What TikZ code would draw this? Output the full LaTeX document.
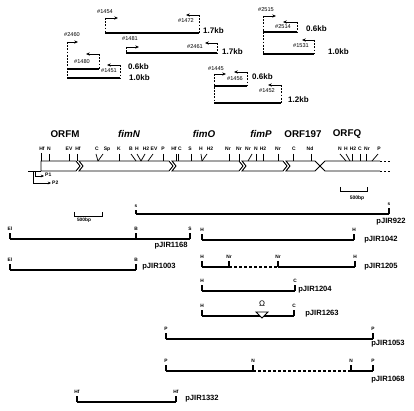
\documentclass[tikz,border=0pt]{standalone}
\usepackage{fontspec}
\setmainfont{Liberation Sans}
\usetikzlibrary{arrows.meta}
\tikzset{
  pl/.style={font=\fontsize{5.6}{6}\selectfont, inner sep=0pt},
  kb/.style={font=\fontsize{8}{8}\selectfont\bfseries, inner sep=0pt, anchor=west},
  gene/.style={font=\fontsize{9.8}{10}\selectfont\bfseries, inner sep=0pt},
  genei/.style={font=\fontsize{9.8}{10}\selectfont\bfseries\itshape, inner sep=0pt},
  site/.style={font=\fontsize{5}{5}\selectfont\bfseries, inner sep=0pt},
  cs/.style={font=\fontsize{4.8}{5}\selectfont\bfseries, inner sep=0pt},
  clab/.style={font=\fontsize{7.6}{8}\selectfont\bfseries, inner sep=0pt},
  dsh/.style={line width=0.7pt, dash pattern=on 1.8pt off 1.4pt},
  pa/.style={line width=0.7pt, -{Stealth[length=3.8pt,width=3.2pt]}},
  frag/.style={line width=1.7pt},
  gbox/.style={draw, line width=0.9pt, fill=white, line join=miter},
  tk/.style={line width=0.75pt},
  cl/.style={line width=1.1pt},
  cld/.style={line width=1.1pt, dash pattern=on 3pt off 2pt},
}
\newcommand{\cutmark}[3]{\draw[cl] (#1,#2) -- (#1,#2-6); \node[cs] at (#1,#2-10) {#3};}
\begin{document}
\begin{tikzpicture}[x=1pt,y=-1pt]
\useasboundingbox[fill=white] (0,0) rectangle (414,411);

% ---------- top fragments ----------
% group A
\coordinate (a1) at (105,18); \coordinate (a2) at (199,15);
\draw[dsh] (a1) -- (105,33); \draw[pa] (a1) -- (118,18);
\node[pl] (la1) at (105,12) {\#1454};
\draw[dsh] (a2) -- (199,33); \draw[pa] (a2) -- (186,15);
\node[pl] (la2) at (186,21) {\#1472};
\draw[frag] (105,33) -- (199,33);
\node[kb] (ka) at (203,31) {1.7kb};
% group B
\coordinate (b1) at (126,47); \coordinate (b2) at (217,43);
\draw[dsh] (b1) -- (126,53); \draw[pa] (b1) -- (139,47);
\node[pl] (lb1) at (130,39) {\#1481};
\draw[dsh] (b2) -- (217,53); \draw[pa] (b2) -- (205,43);
\node[pl] (lb2) at (195,47) {\#2461};
\draw[frag] (126,53) -- (217,53);
\node[kb] (kbb) at (222,52) {1.7kb};
% group C
\coordinate (c1) at (67,42); \coordinate (c2) at (99,54); \coordinate (c3) at (120,65);
\draw[dsh] (c1) -- (67,78); \draw[pa] (c1) -- (78,42);
\node[pl] (lc1) at (72,35) {\#2460};
\draw[dsh] (c2) -- (99,69); \draw[pa] (c2) -- (86,54);
\node[pl] (lc2) at (82,62) {\#1480};
\draw[dsh] (c3) -- (120,78); \draw[pa] (c3) -- (107,65);
\node[pl] (lc3) at (109,71) {\#1451};
\draw[frag] (67,69) -- (99,69);
\draw[frag] (67,78) -- (120,78);
\node[kb] (kc1) at (128,67) {0.6kb};
\node[kb] (kc2) at (129,78) {1.0kb};
% group D
\coordinate (d1) at (263,16); \coordinate (d2) at (297,22); \coordinate (d3) at (314,40);
\draw[dsh] (d1) -- (263,54); \draw[pa] (d1) -- (276,16);
\node[pl] (ld1) at (266,10) {\#2515};
\draw[dsh] (d2) -- (297,32); \draw[pa] (d2) -- (283,22);
\node[pl] (ld2) at (283,27) {\#2514};
\draw[dsh] (d3) -- (314,54); \draw[pa] (d3) -- (302,40);
\node[pl] (ld3) at (301,46) {\#1531};
\draw[frag] (263,32) -- (297,32);
\draw[frag] (263,54) -- (314,54);
\node[kb] (kd1) at (306,29) {0.6kb};
\node[kb] (kd2) at (328,52) {1.0kb};
% group E
\coordinate (e1) at (214,74); \coordinate (e2) at (247,72); \coordinate (e3) at (281,85);
\draw[dsh] (e1) -- (214,103); \draw[pa] (e1) -- (226,74);
\node[pl] (le1) at (216,69) {\#1445};
\draw[dsh] (e2) -- (247,86); \draw[pa] (e2) -- (234,72);
\node[pl] (le2) at (235,79) {\#1456};
\draw[dsh] (e3) -- (281,103); \draw[pa] (e3) -- (268,85);
\node[pl] (le3) at (267,91) {\#1452};
\draw[frag] (214,86) -- (247,86);
\draw[frag] (214,103) -- (281,103);
\node[kb] (ke1) at (252,77) {0.6kb};
\node[kb] (ke2) at (288,100) {1.2kb};

% ---------- gene map ----------
\node[gene]  (gM) at (65,134) {ORFM};
\node[genei] (gN) at (129,134) {fimN};
\node[genei] (gO) at (204,134) {fimO};
\node[genei] (gP) at (261,134) {fimP};
\node[gene]  (g197) at (303,134) {ORF197};
\node[gene]  (gQ) at (347,134) {ORFQ};

\draw[tk] (28,171) -- (41,171);
\draw[gbox] (41,161) -- (76,161) -- (80,166) -- (76,171) -- (41,171) -- cycle;
\draw[gbox] (79,161) -- (169,161) -- (173,166) -- (169,171) -- (79,171) -- (83,166) -- cycle;
\draw[gbox] (172,161) -- (239,161) -- (243,166) -- (239,171) -- (172,171) -- (176,166) -- cycle;
\draw[gbox] (242,161) -- (283,161) -- (287,166) -- (283,171) -- (242,171) -- (246,166) -- cycle;
\draw[gbox] (286,161) -- (315,161) -- (320,166) -- (315,171) -- (286,171) -- (290,166) -- cycle;
\draw[line width=0.9pt] (380,161) -- (325,161) -- (320,166) -- (325,171) -- (380,171);
\draw[line width=0.9pt, dash pattern=on 2pt off 2pt] (380,161) -- (390,161);
\draw[line width=0.9pt, dash pattern=on 2pt off 2pt] (380,171) -- (390,171);

% promoters
\draw[line width=0.7pt, -{Stealth[length=3.2pt,width=2.8pt]}] (35,171) -- (35,176) -- (44,176);
\node[site, anchor=west] (p1) at (45,175) {P1};
\draw[line width=0.7pt, -{Stealth[length=3.2pt,width=2.8pt]}] (33,171) -- (33,183) -- (51,183);
\node[site, anchor=west] (p2) at (52,183) {P2};

% restriction sites: labels
\foreach \x/\t in {42/Hf,49/N,69/EV,78/Hf,97/C,107/Sp,119/K,131/B,137/H,146/H2,154/EV,163/P,
  174/Hf,180/C,190/S,201/H,210/H2,228/Nr,239/Nr,248/Nr,256/N,263/H2,278/Nr,294/C,310/Nd,
  340/N,346/H,353/H2,360/C,367/Nr,379/P}
  \node[site] at (\x,149) {\t};
% restriction sites: ticks
\draw[tk] (41,153) -- (41,161);
\foreach \a/\b in {49/49,69/69,77/77,119/119,163/163,176/176,178/178,191/191,229/229,239/239,
  256/256,263/263,278/278,293/293,311/311,352/352,360/360,366/366,
  96/98,103/98,131/136,137/141,145/141,153/148,201/202,207/202,252/248,340/346,346/350,378/372}
  \draw[tk] (\a,154) -- (\b,161);

% scale bars
\draw[tk] (340,187) -- (340,191) -- (367,191) -- (367,187);
\node[site] (sb1) at (357,198) {500bp};
\draw[tk] (74,212) -- (74,216) -- (102,216) -- (102,212);
\node[cs] (sb2) at (84,220) {500bp};

% ---------- clones ----------
% pJIR922
\draw[cl] (136,214) -- (389,214);
\draw[cl] (136,214) -- (136,210); \node[cs] at (136,206) {s};
\draw[cl] (389,214) -- (389,208); \node[cs] at (389,204) {s};
\node[clab] (c922) at (391,222) {pJIR922};
% pJIR1168
\draw[cl] (10,239) -- (190,239);
\cutmark{10}{239}{El}\cutmark{136}{239}{B}\cutmark{190}{239}{S}
\node[clab] (c1168) at (171,246) {pJIR1168};
% pJIR1003
\draw[cl] (10,270) -- (136,270);
\cutmark{10}{270}{El}\cutmark{136}{270}{B}
\node[clab] (c1003) at (159,267) {pJIR1003};
% pJIR1042
\draw[cl] (202,240) -- (354,240);
\cutmark{202}{240}{H}\cutmark{354}{240}{H}
\node[clab] (c1042) at (381,240) {pJIR1042};
% pJIR1205
\draw[cl] (202,267) -- (229,267);
\draw[cld] (229,267) -- (278,267);
\draw[cl] (278,267) -- (355,267);
\cutmark{202}{267}{H}\cutmark{229}{267}{Nr}\cutmark{278}{267}{Nr}\cutmark{355}{267}{H}
\node[clab] (c1205) at (381,267) {pJIR1205};
% pJIR1204
\draw[cl] (202,291) -- (295,291);
\cutmark{202}{291}{H}\cutmark{295}{291}{C}
\node[clab] (c1204) at (315,290) {pJIR1204};
% pJIR1263
\draw[cl] (202,316) -- (294,316);
\cutmark{202}{316}{H}\cutmark{294}{316}{C}
\draw[line width=0.9pt, fill=white] (256,312) -- (268,312) -- (262,318) -- cycle;
\node[font=\fontsize{8}{8}\selectfont, inner sep=0pt] (om) at (262,304) {Ω};
\node[clab] (c1263) at (322,314) {pJIR1263};
% pJIR1053
\draw[cl] (166,339) -- (373,339);
\cutmark{166}{339}{P}\cutmark{373}{339}{P}
\node[clab] (c1053) at (388,344) {pJIR1053};
% pJIR1068
\draw[cl] (166,371) -- (253,371);
\draw[cld] (253,371) -- (351,371);
\draw[cl] (351,371) -- (373,371);
\cutmark{166}{371}{P}\cutmark{253}{371}{N}\cutmark{351}{371}{N}\cutmark{373}{371}{P}
\node[clab] (c1068) at (388,380) {pJIR1068};
% pJIR1332
\draw[cl] (77,402) -- (176,402);
\cutmark{77}{402}{Hf}\cutmark{176}{402}{Hf}
\node[clab] (c1332) at (202,399) {pJIR1332};
\end{tikzpicture}
\end{document}
